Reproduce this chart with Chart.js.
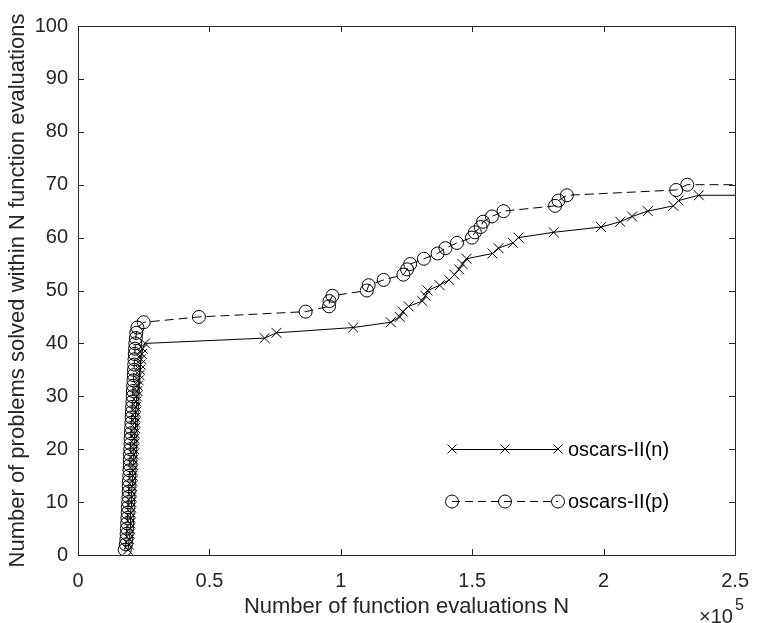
<!DOCTYPE html>
<html>
<head>
<meta charset="utf-8">
<script src="https://cdn.jsdelivr.net/npm/chart.js@4.4.1/dist/chart.umd.min.js"></script>
<style>
  html, body { margin: 0; padding: 0; background: #ffffff; }
  #wrap { width: 763px; height: 623px; }
</style>
</head>
<body>
<div id="wrap"><canvas id="c" width="763" height="623"></canvas></div>
<script>
// ---- data (x values are numbers of function evaluations) ----
const seriesNames = ["oscars-II(n)", "oscars-II(p)"];

const nEvals = [
  19000, 19300, 19500, 19700, 19800, 19900, 20000, 20100, 20200, 20300,
  20400, 20500, 20600, 20700, 20800, 20900, 21000, 21100, 21200, 21300,
  21400, 21500, 21600, 21700, 21800, 21900, 22000, 22100, 22200, 22400,
  22600, 22800, 23100, 23400, 23600, 23800, 24000, 24300, 24600, 25500,
  71000, 75500, 104700, 119000, 122400, 123600, 125800, 131000, 132200, 133000,
  137600, 141200, 143200, 145000, 146300, 147800, 157700, 160000, 165500, 167600,
  181000, 199000, 206300, 210800, 216800, 226500, 228500, 236200, 250000
];
const nSolved = [
  1, 2, 3, 4, 5, 6, 7, 8, 9, 10,
  11, 12, 13, 14, 15, 16, 17, 18, 19, 20,
  21, 22, 23, 24, 25, 26, 27, 28, 29, 30,
  31, 32, 33, 34, 35, 36, 37, 38, 39, 40,
  41, 42, 43, 44, 45, 46, 47, 48, 49, 50,
  51, 52, 53, 54, 55, 56, 57, 58, 59, 60,
  61, 62, 63, 64, 65, 66, 67, 68, 68
];

const pEvals = [
  17800, 18200, 18400, 18500, 18600, 18700, 18800, 18900, 19000, 19100,
  19200, 19300, 19300, 19400, 19500, 19600, 19700, 19700, 19800, 19900,
  20000, 20000, 20100, 20200, 20300, 20400, 20500, 20600, 20700, 20800,
  20900, 21000, 21100, 21200, 21300, 21400, 21500, 21600, 21700, 21800,
  22000, 22200, 22600, 25000, 46000, 86600, 95500, 95700, 96800, 109900,
  110600, 116300, 123800, 125200, 126400, 131600, 136800, 139800, 144200, 149900,
  151000, 153200, 154100, 157500, 161900, 181500, 182800, 186000, 227600, 231800,
  250000
];
const pSolved = [
  1, 2, 3, 4, 5, 6, 7, 8, 9, 10,
  11, 12, 13, 14, 15, 16, 17, 18, 19, 20,
  21, 22, 23, 24, 25, 26, 27, 28, 29, 30,
  31, 32, 33, 34, 35, 36, 37, 38, 39, 40,
  41, 42, 43, 44, 45, 46, 47, 48, 49, 50,
  51, 52, 53, 54, 55, 56, 57, 58, 59, 60,
  61, 62, 63, 64, 65, 66, 67, 68, 69, 70,
  70
];

const xTickLabels = ["0", "0.5", "1", "1.5", "2", "2.5"];
const yTickLabels = ["0","10","20","30","40","50","60","70","80","90","100"];
const xTitle = "Number of function evaluations N";
const yTitle = "Number of problems solved within N function evaluations";

// ---- styling ----
const AXIS = "#262626";
const FONT = "'Liberation Sans', Arial, Helvetica, sans-serif";

function toPoints(xs, ys) { return xs.map((x, i) => ({ x: x, y: ys[i] })); }
function lastHidden(r) { return (ctx) => (ctx.dataIndex === ctx.dataset.data.length - 1 ? 0 : r); }

const frameAndLegend = {
  id: 'frameAndLegend',
  beforeDatasetsDraw(chart) {
    const { ctx, chartArea: a, scales } = chart;
    ctx.save();
    ctx.strokeStyle = AXIS;
    ctx.lineWidth = 1;
    ctx.beginPath();
    ctx.rect(Math.round(a.left) + 0.5, Math.round(a.top) + 0.5, Math.round(a.right - a.left), Math.round(a.bottom - a.top));
    ctx.stroke();
    const tl = 6;
    ctx.beginPath();
    scales.x.ticks.forEach(t => {
      const px = Math.round(scales.x.getPixelForValue(t.value)) + 0.5;
      ctx.moveTo(px, a.bottom); ctx.lineTo(px, a.bottom - tl);
      ctx.moveTo(px, a.top); ctx.lineTo(px, a.top + tl);
    });
    scales.y.ticks.forEach(t => {
      const py = Math.round(scales.y.getPixelForValue(t.value)) + 0.5;
      ctx.moveTo(a.left, py); ctx.lineTo(a.left + tl, py);
      ctx.moveTo(a.right, py); ctx.lineTo(a.right - tl, py);
    });
    ctx.stroke();
    ctx.restore();
  },
  afterDraw(chart) {
    const { ctx } = chart;
    ctx.save();
    // exponent label
    ctx.fillStyle = AXIS;
    ctx.textBaseline = 'alphabetic';
    ctx.textAlign = 'left';
    ctx.font = "20px " + FONT;
    ctx.fillText("\u00d710", 699, 623);
    ctx.font = "16px " + FONT;
    ctx.fillText("5", 735, 610);

    // legend
    const x0 = 452, x1 = 558, xm = (x0 + x1) / 2;
    const rows = [
      { y: 449 },
      { y: 501 }
    ];
    rows.forEach((r, i) => {
      ctx.strokeStyle = '#000';
      ctx.lineWidth = 1;
      ctx.setLineDash(i === 1 ? [8, 5] : []);
      ctx.beginPath();
      ctx.moveTo(x0, r.y + 0.5); ctx.lineTo(x1, r.y + 0.5);
      ctx.stroke();
      ctx.setLineDash([]);
      [x0, xm, x1].forEach(px => {
        if (i === 0) {
          const s = 4.5;
          ctx.beginPath();
          ctx.moveTo(px - s, r.y - s); ctx.lineTo(px + s, r.y + s);
          ctx.moveTo(px - s, r.y + s); ctx.lineTo(px + s, r.y - s);
          ctx.stroke();
        } else {
          ctx.beginPath();
          ctx.arc(px, r.y + 0.5, 6.5, 0, Math.PI * 2);
          ctx.stroke();
        }
      });
      ctx.fillStyle = '#000';
      ctx.font = "20px " + FONT;
      ctx.textBaseline = 'middle';
      ctx.textAlign = 'left';
      ctx.fillText(seriesNames[i], 568, r.y + 1);
    });
    ctx.restore();
  }
};

new Chart(document.getElementById('c'), {
  type: 'scatter',
  data: {
    datasets: [
      {
        label: seriesNames[0],
        data: toPoints(nEvals, nSolved),
        showLine: true,
        borderColor: '#000',
        borderWidth: 1,
        pointStyle: 'crossRot',
        pointRadius: lastHidden(7),
        pointBorderColor: '#000',
        pointBorderWidth: 1,
        pointBackgroundColor: 'rgba(0,0,0,0)',
        tension: 0
      },
      {
        label: seriesNames[1],
        data: toPoints(pEvals, pSolved),
        showLine: true,
        borderColor: '#000',
        borderWidth: 1,
        borderDash: [9, 5],
        pointStyle: 'circle',
        pointRadius: lastHidden(6.5),
        pointBorderColor: '#000',
        pointBorderWidth: 1,
        pointBackgroundColor: 'rgba(0,0,0,0)',
        tension: 0
      }
    ]
  },
  options: {
    responsive: false,
    animation: false,
    devicePixelRatio: 1,
    layout: { padding: { left: 0, right: 17, top: 26, bottom: 0 } },
    plugins: {
      legend: { display: false },
      tooltip: { enabled: false }
    },
    scales: {
      x: {
        type: 'linear',
        min: 0, max: 250000,
        grid: { display: false, drawTicks: false },
        border: { display: false },
        ticks: {
          stepSize: 50000,
          color: AXIS,
          font: { family: FONT, size: 20 },
          padding: 14,
          maxRotation: 0,
          callback: (v) => xTickLabels[Math.round(v / 50000)]
        },
        title: {
          display: true, text: xTitle, color: AXIS,
          font: { family: FONT, size: 22 },
          padding: { top: 0, bottom: 3 }
        },
        afterFit: (s) => { s.height = 68; }
      },
      y: {
        type: 'linear',
        min: 0, max: 100,
        grid: { display: false, drawTicks: false },
        border: { display: false },
        ticks: {
          stepSize: 10,
          color: AXIS,
          font: { family: FONT, size: 20 },
          padding: 10,
          callback: (v) => yTickLabels[Math.round(v / 10)]
        },
        title: {
          display: true, text: yTitle, color: AXIS,
          font: { family: FONT, size: 22 },
          padding: { top: 5, bottom: 0 }
        },
        afterFit: (s) => { s.width = 78; }
      }
    }
  },
  plugins: [frameAndLegend]
});
</script>
</body>
</html>
